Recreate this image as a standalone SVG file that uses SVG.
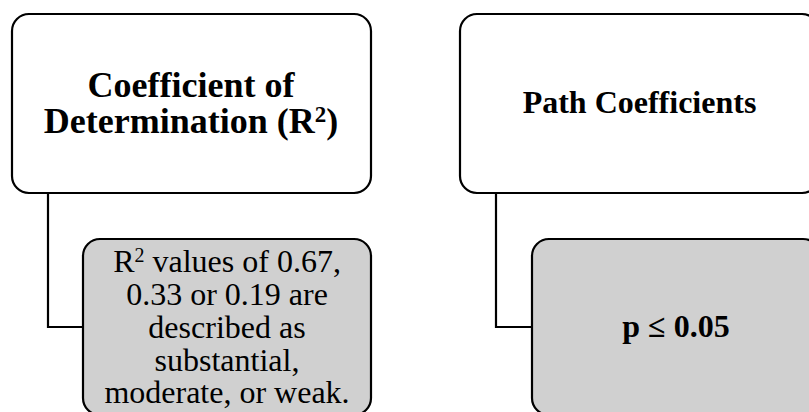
<svg xmlns="http://www.w3.org/2000/svg" width="809" height="412" viewBox="0 0 809 412">
  <style>
    .box { stroke: #000; stroke-width: 2.2; }
    .head { fill: #fff; }
    .sub { fill: #d0d0d0; }
    .wire { fill: none; stroke: #000; stroke-width: 2.2; }
    .bold { font-family: "Liberation Serif", "Times New Roman", serif; font-weight: bold; font-size: 32px; fill: #000; text-anchor: middle; }
    .big { font-size: 36px; }
    .reg { font-family: "Liberation Serif", "Times New Roman", serif; font-size: 32px; fill: #000; text-anchor: middle; }
  </style>
  <rect width="809" height="412" fill="#fff"/>

  <!-- connectors -->
  <g id="connectors">
    <path class="wire" d="M48 193 V327 H83"/>
    <path class="wire" d="M496 193 V327 H532"/>
  </g>

  <g id="r2-head">
    <rect class="box head" x="12" y="14" width="359" height="179" rx="17"/>
    <text class="bold big"><tspan x="191" y="97">Coefficient of</tspan><tspan x="191" y="133">Determination (R</tspan><tspan font-size="23" dy="-11">2</tspan><tspan dy="11">)</tspan></text>
  </g>

  <g id="r2-detail">
    <rect class="box sub" x="83" y="239" width="288" height="176" rx="17"/>
    <text class="reg"><tspan x="227" y="272">R</tspan><tspan font-size="20" dy="-10">2</tspan><tspan dy="10"> values of 0.67,</tspan><tspan x="227" y="304.5">0.33 or 0.19 are</tspan><tspan x="227" y="337.5">described as</tspan><tspan x="227" y="370.5">substantial,</tspan><tspan x="227" y="403">moderate, or weak.</tspan></text>
  </g>

  <g id="path-head">
    <rect class="box head" x="460" y="14" width="359" height="179" rx="17"/>
    <text class="bold" x="639.5" y="113">Path Coefficients</text>
  </g>

  <g id="path-detail">
    <rect class="box sub" x="532" y="239" width="288" height="176" rx="17"/>
    <text class="bold" x="676" y="337">p ≤ 0.05</text>
  </g>
</svg>
